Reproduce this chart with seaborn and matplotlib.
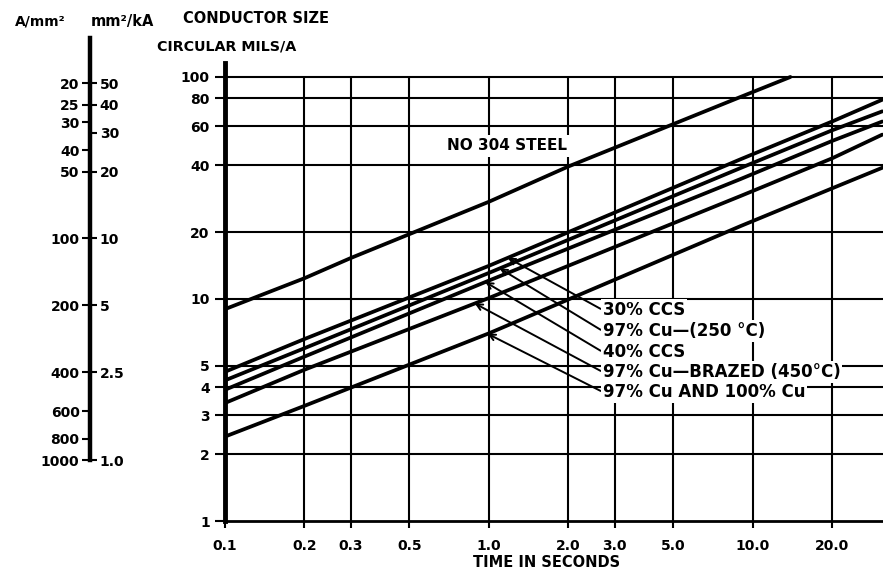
import numpy as np
import pandas as pd
import matplotlib
matplotlib.use("Agg")
import matplotlib.pyplot as plt
import seaborn as sns

# ---------------- data ----------------
time_s = [0.1, 0.2, 1.0, 9.0, 20.0, 31.0]
ccs30 = [4.7, 6.6, 14.1, 42.6, 63.0, 79.0]
cu97_250 = [4.3, 6.0, 13.1, 38.9, 57.5, 70.0]
ccs40 = [3.9, 5.5, 12.1, 34.7, 51.5, 63.0]
cu97_brazed = [3.4, 4.8, 10.1, 29.1, 43.0, 55.0]
cu97_100 = [2.4, 3.3, 7.0, 21.3, 31.5, 39.0]

steel_time = [0.1, 0.2, 0.3, 1.0, 2.0, 8.7, 13.9]
steel_size = [9.0, 12.4, 15.3, 27.4, 39.5, 80.0, 100.0]

series_labels = ["30% CCS", "97% Cu\u2014(250 \u00b0C)", "40% CCS",
                 "97% Cu\u2014BRAZED (450\u00b0C)", "97% Cu AND 100% Cu"]
steel_label = "NO 304 STEEL"

xtick_values = [0.1, 0.2, 0.3, 0.5, 1.0, 2.0, 3.0, 5.0, 10.0, 20.0]
xtick_labels = ["0.1", "0.2", "0.3", "0.5", "1.0", "2.0", "3.0", "5.0", "10.0", "20.0"]
ytick_values = [1, 2, 3, 4, 5, 10, 20, 40, 60, 80, 100]
ytick_labels = ["1", "2", "3", "4", "5", "10", "20", "40", "60", "80", "100"]

amps_per_mm2 = [20, 25, 30, 40, 50, 100, 200, 400, 600, 800, 1000]
amps_per_mm2_labels = ["20", "25", "30", "40", "50", "100", "200", "400", "600", "800", "1000"]
mm2_per_ka = [50, 40, 30, 20, 10, 5, 2.5, 1.0]
mm2_per_ka_labels = ["50", "40", "30", "20", "10", "5", "2.5", "1.0"]

MM2_PER_KA_PER_CMIL_A = 0.5067  # 1 circular mil = 5.067e-4 mm^2

# ---------------- build long table ----------------
series_values = [ccs30, cu97_250, ccs40, cu97_brazed, cu97_100]
frames = [pd.DataFrame({"time": time_s, "size": v, "material": n})
          for n, v in zip(series_labels, series_values)]
frames.append(pd.DataFrame({"time": steel_time, "size": steel_size, "material": steel_label}))
df = pd.concat(frames, ignore_index=True)

# ---------------- style ----------------
sns.set_theme(style="white")
plt.rcParams["font.family"] = ["DejaVu Sans"]
plt.rcParams["font.weight"] = "bold"
plt.rcParams["text.color"] = "black"
plt.rcParams["axes.labelcolor"] = "black"
plt.rcParams["xtick.color"] = "black"
plt.rcParams["ytick.color"] = "black"

fig = plt.figure(figsize=(8.83, 5.73), dpi=100)
fig.patch.set_facecolor("white")

ax = fig.add_axes([0.2548, 0.09075, 0.7452, 0.7993])
ax.set_facecolor("white")

palette = {name: "black" for name in df["material"].unique()}
sns.lineplot(data=df, x="time", y="size", hue="material", palette=palette,
             estimator=None, sort=False, legend=False, linewidth=2.7, ax=ax, zorder=3)

ax.set_xscale("log")
ax.set_yscale("log")
ax.set_xlim(0.1, 31.2)
ax.set_ylim(1, 115.6)
ax.minorticks_off()

# grid: horizontal lines full width, vertical lines up to 100
for v in ytick_values[1:]:
    ax.axhline(v, color="black", lw=1.5, zorder=1)
ax.vlines(xtick_values[1:], 1, 100, color="black", lw=1.5, zorder=1)

ax.set_xticks(xtick_values)
ax.set_xticklabels(xtick_labels, fontsize=10, fontweight="bold", color="black")
ax.set_yticks(ytick_values)
ax.set_yticklabels(ytick_labels, fontsize=10, fontweight="bold", color="black")
ax.tick_params(axis="x", direction="out", length=5, width=1.5, pad=8, colors="black", bottom=True)
ax.tick_params(axis="y", direction="out", length=7, width=1.5, pad=4, colors="black", left=True)
ax.set_xlabel("")
ax.set_ylabel("")

for s in ["top", "right"]:
    ax.spines[s].set_visible(False)
ax.spines["left"].set_linewidth(3.5)
ax.spines["left"].set_color("black")
ax.spines["bottom"].set_linewidth(2.0)
ax.spines["bottom"].set_color("black")

# labels with leaders
arrow_tip_time = [1.18, 1.10, 0.97, 0.885, 0.99]
label_y_frac = [0.4607, 0.4148, 0.369, 0.3253, 0.2817]
for name, vals, xt, yf in zip(series_labels, series_values, arrow_tip_time, label_y_frac):
    yt = 10 ** np.interp(np.log10(xt), np.log10(time_s), np.log10(vals))
    ax.annotate(name, xy=(xt, yt), xycoords="data",
                xytext=(0.574, yf), textcoords="axes fraction",
                ha="left", va="center", fontsize=12, fontweight="bold", color="black",
                bbox=dict(boxstyle="square,pad=0.12", fc="white", ec="none"),
                arrowprops=dict(arrowstyle="->,head_length=0.35,head_width=0.18",
                                color="black", lw=1.4, relpos=(0, 0.5),
                                shrinkA=0, shrinkB=0),
                zorder=6)

ax.text(0.4286, 0.8188, steel_label, transform=ax.transAxes, ha="center", va="center",
        fontsize=11, fontweight="bold", color="black", zorder=6,
        bbox=dict(boxstyle="square,pad=0.2", fc="white", ec="none"))

# ---------------- secondary scale (A/mm^2 and mm^2/kA) ----------------
sec_rect = [0.1019, 0.0820, 0.0001, 0.8915]
axL = fig.add_axes(sec_rect)
axR = fig.add_axes(sec_rect)
for a in (axL, axR):
    a.set_yscale("log")
    a.set_ylim(1, 200)
    a.minorticks_off()
    a.set_xticks([])
    a.patch.set_alpha(0)
    for s in a.spines.values():
        s.set_visible(False)

posL = [(1000.0 / v) / MM2_PER_KA_PER_CMIL_A for v in amps_per_mm2]
posR = [v / MM2_PER_KA_PER_CMIL_A for v in mm2_per_ka]

axL.spines["left"].set_visible(True)
axL.spines["left"].set_linewidth(3.2)
axL.spines["left"].set_color("black")
axL.spines["left"].set_bounds(min(posR), 158)
axL.set_yticks(posL)
axL.set_yticklabels(amps_per_mm2_labels, fontsize=10, fontweight="bold", color="black")
axL.tick_params(axis="y", direction="out", length=6, width=1.5, pad=1.5, colors="black", left=True)

axR.yaxis.tick_right()
axR.set_yticks(posR)
axR.set_yticklabels(mm2_per_ka_labels, fontsize=10, fontweight="bold", color="black")
axR.tick_params(axis="y", direction="out", length=5, width=1.5, pad=2, colors="black", right=True)

# ---------------- header texts ----------------
fig.text(0.0453, 0.962, "A/mm\u00b2", ha="center", va="center", fontsize=10, fontweight="bold", color="black")
fig.text(0.139, 0.963, "mm\u00b2/kA", ha="center", va="center", fontsize=10.5, fontweight="bold", color="black")
fig.text(0.207, 0.967, "CONDUCTOR SIZE", ha="left", va="center", fontsize=10.5, fontweight="bold", color="black")
fig.text(0.178, 0.918, "CIRCULAR MILS/A", ha="left", va="center", fontsize=10.3, fontweight="bold", color="black")
fig.text(0.6195, 0.0175, "TIME IN SECONDS", ha="center", va="center", fontsize=10.5, fontweight="bold", color="black")

fig.savefig("out.png", dpi=100, facecolor="white")
